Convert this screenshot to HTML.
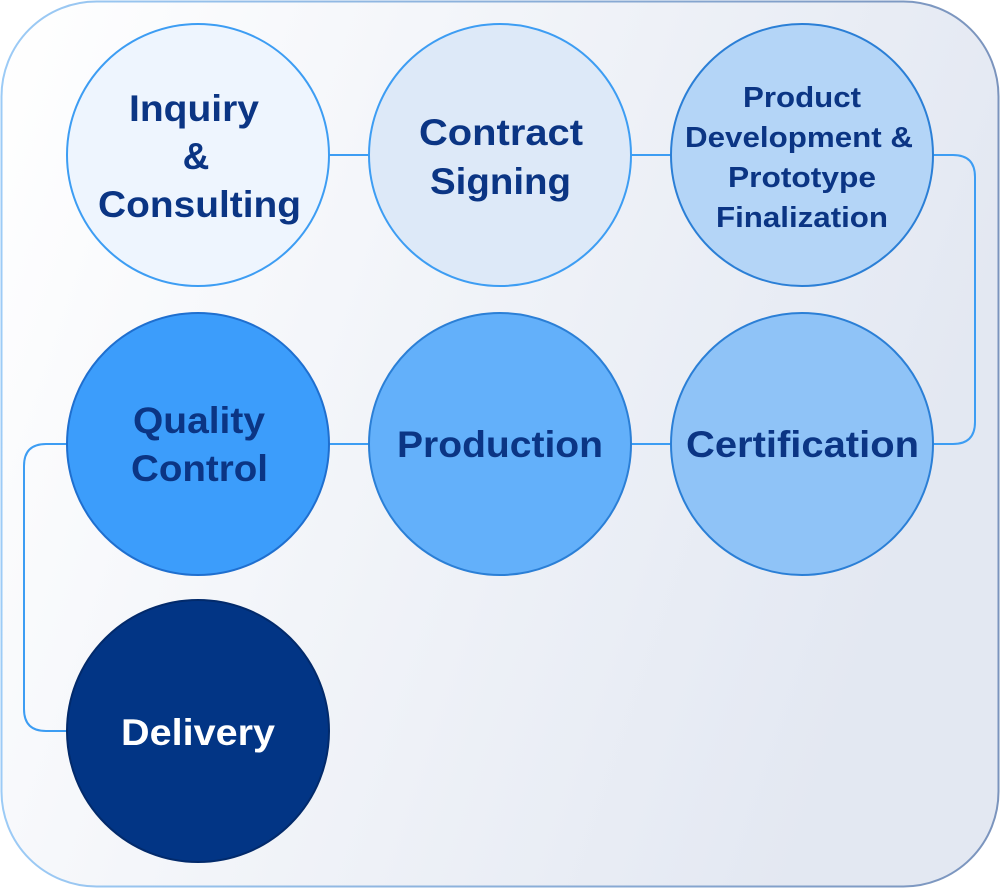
<!DOCTYPE html>
<html><head><style>
html,body{margin:0;padding:0;background:#fff;}
svg{display:block;}
text{font-family:"Liberation Sans",sans-serif;font-weight:bold;text-anchor:middle;fill:#0b3584;}
</style></head><body>
<svg width="1000" height="888" viewBox="0 0 1000 888" xmlns="http://www.w3.org/2000/svg">
<defs>
<linearGradient id="bg" x1="0" y1="0" x2="1" y2="0.3">
<stop offset="0" stop-color="#ffffff"/><stop offset="1" stop-color="#e3e8f2"/>
</linearGradient>
<linearGradient id="bd" x1="0" y1="0" x2="1" y2="0">
<stop offset="0" stop-color="#9ccbf6"/><stop offset="1" stop-color="#7b94bd"/>
</linearGradient>
</defs>
<rect x="1.5" y="1.5" width="997" height="885" rx="95" fill="url(#bg)" stroke="url(#bd)" stroke-width="2"/>
<g stroke="#3d9df3" stroke-width="2" fill="none">
<line x1="329" y1="155" x2="369" y2="155"/>
<line x1="631" y1="155" x2="671" y2="155"/>
<line x1="329" y1="444" x2="369" y2="444"/>
<line x1="631" y1="444" x2="671" y2="444"/>
<path d="M933 155 H953 Q975 155 975 177 V422 Q975 444 953 444 H933"/>
<path d="M67 444 H46 Q24 444 24 466 V709 Q24 731 46 731 H67"/>
</g>
<g stroke="#3d9df3" stroke-width="2">
<circle cx="198" cy="155" r="131" fill="#eef5fe"/>
<circle cx="500" cy="155" r="131" fill="#dde9f8"/>
<circle cx="802" cy="155" r="131" fill="#b4d5f7" stroke="#2b7fd6"/>
<circle cx="198" cy="444" r="131" fill="#3c9dfb" stroke="#1f6fcf"/>
<circle cx="500" cy="444" r="131" fill="#63b0fa" stroke="#2b7fd6"/>
<circle cx="802" cy="444" r="131" fill="#8fc3f7" stroke="#2b7fd6"/>
<circle cx="198" cy="731" r="131" fill="#023585" stroke="#022a6b"/>
</g>
<g lengthAdjust="spacingAndGlyphs">
<text x="194" y="121" font-size="37" textLength="130" lengthAdjust="spacingAndGlyphs">Inquiry</text>
<text x="196" y="169" font-size="37">&amp;</text>
<text x="199.5" y="217" font-size="37" textLength="203" lengthAdjust="spacingAndGlyphs">Consulting</text>
<text x="501" y="145" font-size="37" textLength="164" lengthAdjust="spacingAndGlyphs">Contract</text>
<text x="500.5" y="194" font-size="37" textLength="141" lengthAdjust="spacingAndGlyphs">Signing</text>
<text x="802" y="107" font-size="29" textLength="118" lengthAdjust="spacingAndGlyphs">Product</text>
<text x="799" y="147" font-size="29" textLength="228" lengthAdjust="spacingAndGlyphs">Development &amp;</text>
<text x="802" y="187" font-size="29" textLength="148" lengthAdjust="spacingAndGlyphs">Prototype</text>
<text x="802" y="227" font-size="29" textLength="172" lengthAdjust="spacingAndGlyphs">Finalization</text>
<text x="199" y="433" font-size="37" textLength="132" lengthAdjust="spacingAndGlyphs">Quality</text>
<text x="199.5" y="481" font-size="37" textLength="137" lengthAdjust="spacingAndGlyphs">Control</text>
<text x="500" y="457" font-size="37" textLength="206" lengthAdjust="spacingAndGlyphs">Production</text>
<text x="802.5" y="457" font-size="37" textLength="233" lengthAdjust="spacingAndGlyphs">Certification</text>
<text x="198" y="745" font-size="37" textLength="154" lengthAdjust="spacingAndGlyphs" style="fill:#fff">Delivery</text>
</g>
</svg>
</body></html>
